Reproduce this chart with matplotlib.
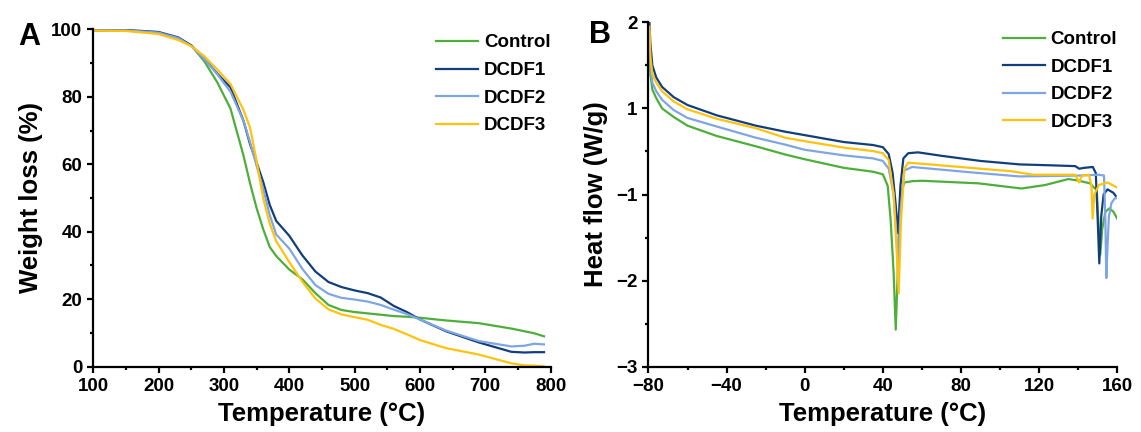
import numpy as np
import matplotlib
matplotlib.use("Agg")
import matplotlib.pyplot as plt
from matplotlib.ticker import MultipleLocator, FixedLocator

plt.rcParams['font.family'] = ['Liberation Sans', 'DejaVu Sans']
plt.rcParams['font.weight'] = 'bold'
plt.rcParams['axes.labelweight'] = 'bold'

labels = ["Control", "DCDF1", "DCDF2", "DCDF3"]
colors = ["#4DAF3A", "#123E7C", "#7FA6E4", "#FFC20E"]

# ---- panel A: TGA ----
tga_temp = [100, 150, 200, 230, 250, 270, 290, 310, 330, 340, 350, 360, 370, 380,
            400, 420, 440, 460, 480, 500, 520, 540, 560, 580, 600, 640, 690, 740,
            760, 775, 790]
tga_control = [99.6, 99.6, 99.0, 97.4, 95.2, 90.5, 84.2, 76.5, 62.5, 54.3, 47.0, 40.8,
               35.5, 32.8, 28.8, 25.9, 21.8, 18.3, 16.8, 16.2, 15.8, 15.4, 15.0, 14.8,
               14.5, 13.7, 12.9, 11.3, 10.5, 9.9, 9.0]
tga_dcdf1 = [99.6, 99.8, 99.2, 97.6, 95.2, 91.3, 86.8, 82.8, 72.8, 65.9, 60.5, 54.8,
             48.0, 43.2, 38.8, 33.0, 28.2, 25.1, 23.6, 22.6, 21.8, 20.5, 18.0, 16.2,
             14.0, 10.5, 7.2, 4.4, 4.2, 4.3, 4.3]
tga_dcdf2 = [99.6, 99.7, 99.0, 97.4, 95.0, 91.2, 86.6, 81.5, 72.8, 66.5, 59.5, 52.8,
             45.0, 39.2, 35.0, 29.0, 24.2, 21.6, 20.4, 19.9, 19.3, 18.3, 16.9, 15.6,
             14.0, 10.7, 7.6, 6.0, 6.2, 6.8, 6.6]
tga_dcdf3 = [99.6, 99.5, 98.6, 96.8, 95.0, 92.0, 88.0, 83.8, 76.0, 70.8, 61.0, 50.0,
             42.5, 37.2, 31.0, 25.2, 20.2, 17.0, 15.5, 14.7, 13.9, 12.4, 11.2, 9.6,
             7.9, 5.5, 3.6, 1.0, 0.4, 0.3, 0.1]

# ---- panel B: DSC (y in tick-position units; printed tick labels below) ----
dsc_t_control = [-79.5, -79, -78, -76, -73, -67, -60, -45, -25, -10, 0, 20, 35, 40, 42.5,
                 44, 45.5, 46.6, 47.8, 49, 51, 55, 60, 89, 111, 123, 135, 140.4, 146,
                 149.5, 150.5, 151.3, 152.3, 153.9, 156, 158, 160]
dsc_control = [1.8, 1.4, 1.22, 1.12, 1.0, 0.9, 0.8, 0.68, 0.56, 0.465, 0.41, 0.31, 0.265,
               0.235, 0.10, -0.3, -0.9, -1.57, -0.8, 0.0, 0.14, 0.155, 0.16, 0.13, 0.07,
               0.11, 0.18, 0.16, 0.13, 0.05, -0.4, -0.70, -0.4, -0.2, -0.16, -0.2, -0.28]
dsc_t_dcdf1 = [-79.5, -79, -78, -76, -73, -67, -60, -45, -25, -10, 0, 20, 35, 40, 43, 45,
               46.5, 47.8, 49, 50.5, 53, 58, 70, 90, 110, 125, 138.5, 140.5, 143, 147.5,
               149, 150, 150.8, 151.8, 153, 155, 158, 160]
dsc_dcdf1 = [2.0, 1.75, 1.5, 1.36, 1.25, 1.13, 1.04, 0.92, 0.80, 0.73, 0.69, 0.61, 0.575,
             0.55, 0.47, 0.25, -0.1, -0.45, 0.1, 0.42, 0.48, 0.49, 0.45, 0.39, 0.35, 0.34,
             0.33, 0.30, 0.31, 0.32, 0.25, -0.3, -0.80, -0.25, 0.0, 0.06, 0.02, -0.04]
dsc_t_dcdf2 = [-79.5, -79, -78, -76, -73, -67, -60, -45, -25, -10, 0, 20, 35, 40, 43, 45.5,
               47, 47.8, 49, 51, 55, 84, 110, 140, 150.6, 153.2, 153.9, 154.4, 155, 155.7,
               157, 158.5, 160]
dsc_dcdf2 = [1.9, 1.5, 1.3, 1.2, 1.1, 0.98, 0.89, 0.79, 0.66, 0.58, 0.52, 0.455, 0.42,
             0.39, 0.30, 0.0, -0.5, -0.95, -0.2, 0.28, 0.32, 0.26, 0.21, 0.22, 0.23, 0.22,
             -0.3, -0.97, -0.6, -0.26, -0.1, -0.05, -0.03]
dsc_t_dcdf3 = [-79.5, -79, -78, -76, -73, -67, -60, -45, -25, -10, 0, 20, 35, 40, 43, 45.5,
               47, 48.1, 49.3, 51, 53, 64, 90, 106, 117, 138.5, 140.4, 142, 145.5, 146.8,
               147.4, 148.2, 150.6, 155, 160]
dsc_dcdf3 = [1.95, 1.6, 1.4, 1.3, 1.2, 1.08, 0.99, 0.88, 0.77, 0.66, 0.62, 0.545, 0.505,
             0.48, 0.40, 0.0, -0.6, -1.15, -0.3, 0.3, 0.37, 0.35, 0.30, 0.27, 0.23, 0.23,
             0.14, 0.22, 0.23, 0.10, -0.28, 0.0, 0.11, 0.14, 0.08]
dsc_ytick_pos = [2, 1, 0, -1, -2]
dsc_ytick_text = ["2", "1", "\u22121", "\u22122", "\u22123"]

fig = plt.figure(figsize=(11.41, 4.32), dpi=100)
axA = fig.add_axes([0.0818, 0.1512, 0.4007, 0.781])
axB = fig.add_axes([0.5683, 0.1512, 0.4109, 0.797])


def style(ax):
    for s in ["top", "right"]:
        ax.spines[s].set_visible(False)
    for s in ["left", "bottom"]:
        ax.spines[s].set_linewidth(1.6)
    ax.tick_params(which="major", direction="out", length=4, width=1.6, labelsize=13.5, pad=4)
    ax.tick_params(which="minor", direction="out", length=2.5, width=1.6)
    for lab in ax.get_xticklabels() + ax.get_yticklabels():
        lab.set_fontweight("bold")


leg_kw = dict(loc="upper right", frameon=False, fontsize=13.5, handlelength=2.25,
              handletextpad=0.3, labelspacing=0.56, borderaxespad=0, borderpad=0)

for y, lab, c in zip([tga_control, tga_dcdf1, tga_dcdf2, tga_dcdf3], labels, colors):
    axA.plot(tga_temp, y, color=c, lw=1.6, label=lab)
axA.set_xlim(100, 800)
axA.set_ylim(0, 100)
axA.xaxis.set_major_locator(MultipleLocator(100))
axA.xaxis.set_minor_locator(MultipleLocator(50))
axA.yaxis.set_major_locator(MultipleLocator(20))
axA.yaxis.set_minor_locator(MultipleLocator(10))
style(axA)
axA.set_xlabel("Temperature (\u00b0C)", fontsize=18.5, fontweight="bold", labelpad=5)
axA.set_ylabel("Weight loss (%)", fontsize=18.5, fontweight="bold", labelpad=6)
axA.legend(bbox_to_anchor=(1.0, 0.985), **leg_kw)
fig.text(0.016, 0.895, "A", fontsize=22, fontweight="bold")

for xs, y, lab, c in zip([dsc_t_control, dsc_t_dcdf1, dsc_t_dcdf2, dsc_t_dcdf3],
                         [dsc_control, dsc_dcdf1, dsc_dcdf2, dsc_dcdf3], labels, colors):
    axB.plot(xs, y, color=c, lw=1.6, label=lab)
axB.set_xlim(-80, 160)
axB.set_ylim(-2, 2)
axB.yaxis.set_major_locator(FixedLocator(dsc_ytick_pos))
axB.set_yticklabels(dsc_ytick_text)
axB.yaxis.set_minor_locator(MultipleLocator(0.5))
axB.set_xticks([-80, -40, 0, 40, 80, 120, 160])
axB.set_xticklabels(["\u221280", "\u221240", "0", "40", "80", "120", "160"])
axB.xaxis.set_minor_locator(MultipleLocator(20))
style(axB)
axB.set_xlabel("Temperature (\u00b0C)", fontsize=18.5, fontweight="bold", labelpad=5)
axB.set_ylabel("Heat flow (W/g)", fontsize=18.5, fontweight="bold", labelpad=6)
axB.legend(bbox_to_anchor=(1.0, 0.975), **leg_kw)
fig.text(0.516, 0.9, "B", fontsize=22, fontweight="bold")

fig.savefig("out.png", dpi=100)
